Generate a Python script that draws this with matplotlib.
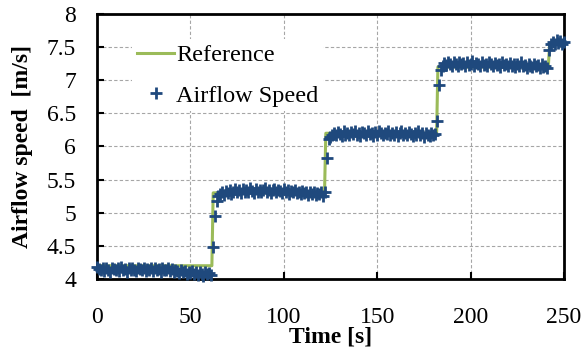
import matplotlib
matplotlib.use('Agg')
import matplotlib.pyplot as plt
import numpy as np

plt.rcParams['font.family'] = ['Liberation Serif', 'DejaVu Serif']

# measured airflow speed, one sample per second (t = 0 .. 250 s)
sample_period = 1.0
speed = [
    # level 1
    4.18, 4.15, 4.13, 4.17, 4.12, 4.16, 4.14, 4.11, 4.17, 4.15,
    4.13, 4.16, 4.12, 4.18, 4.14, 4.15, 4.11, 4.16, 4.13, 4.17,
    4.14, 4.12, 4.16, 4.15, 4.13, 4.17, 4.12, 4.15, 4.14, 4.16,
    4.12, 4.17, 4.13, 4.15, 4.11, 4.16, 4.14, 4.13, 4.17, 4.12,
    4.15, 4.11, 4.14, 4.12, 4.09, 4.13, 4.10, 4.12, 4.08, 4.11,
    4.09, 4.12, 4.07, 4.10, 4.06, 4.11, 4.08, 4.05, 4.10, 4.07,
    4.09, 4.06,
    4.48, 4.95, 5.17, 5.25,
    # level 2
    5.28, 5.31, 5.27, 5.33, 5.30, 5.35, 5.29, 5.32, 5.36, 5.31,
    5.34, 5.30, 5.36, 5.32, 5.35, 5.31, 5.37, 5.33, 5.30, 5.36,
    5.32, 5.35, 5.31, 5.34, 5.37, 5.32, 5.35, 5.30, 5.34, 5.36,
    5.31, 5.35, 5.33, 5.30, 5.36, 5.32, 5.34, 5.29, 5.33, 5.31,
    5.35, 5.30, 5.32, 5.28, 5.33, 5.30, 5.31, 5.27, 5.32, 5.29,
    5.31, 5.27, 5.30, 5.28, 5.32, 5.26, 5.31,
    5.82, 6.12,
    # level 3
    6.15, 6.18, 6.21, 6.17, 6.22, 6.19, 6.16, 6.23, 6.18, 6.21,
    6.17, 6.22, 6.19, 6.24, 6.18, 6.21, 6.16, 6.22, 6.20, 6.17,
    6.23, 6.19, 6.21, 6.16, 6.22, 6.18, 6.24, 6.20, 6.17, 6.21,
    6.19, 6.23, 6.17, 6.21, 6.18, 6.22, 6.16, 6.20, 6.23, 6.18,
    6.21, 6.17, 6.22, 6.19, 6.16, 6.21, 6.18, 6.23, 6.17, 6.20,
    6.15, 6.21, 6.18, 6.16, 6.20, 6.17, 6.19,
    6.38, 6.93, 7.15,
    # level 4
    7.22, 7.26, 7.23, 7.28, 7.24, 7.21, 7.27, 7.25, 7.22, 7.28,
    7.24, 7.26, 7.21, 7.27, 7.23, 7.25, 7.29, 7.22, 7.26, 7.24,
    7.21, 7.27, 7.23, 7.25, 7.22, 7.28, 7.24, 7.21, 7.26, 7.23,
    7.25, 7.20, 7.27, 7.23, 7.25, 7.21, 7.26, 7.22, 7.24, 7.20,
    7.25, 7.22, 7.27, 7.21, 7.23, 7.19, 7.24, 7.22, 7.20, 7.25,
    7.21, 7.23, 7.19, 7.24, 7.20, 7.22, 7.18,
    7.45,
    # level 5
    7.55, 7.58, 7.54, 7.60, 7.56, 7.59, 7.55, 7.58,
]
time = np.arange(len(speed)) * sample_period

# reference set-point (steps)
ref_time = [0, 61.5, 62.2, 121.8, 122.5, 181.8, 182.5, 241.6, 242.3, 250]
ref_speed = [4.2, 4.2, 5.3, 5.3, 6.2, 6.2, 7.2, 7.2, 7.55, 7.55]

x_ticks = [0, 50, 100, 150, 200, 250]
y_ticks = [4, 4.5, 5, 5.5, 6, 6.5, 7, 7.5, 8]
y_ticklabels = ['4', '4.5', '5', '5.5', '6', '6.5', '7', '7.5', '8']

fig = plt.figure(figsize=(5.85, 3.49), dpi=100)
ax = fig.add_axes([0.1658, 0.2006, 0.7983, 0.7593])

ax.plot(ref_time, ref_speed, color='#9BBB59', lw=2.2, label='Reference', zorder=3)
ax.plot(time, speed, ls='none', marker='+', ms=8.5, mew=2.0, color='#1F497D',
        label='Airflow Speed', zorder=4, clip_on=False)

ax.set_xlim(0, 250)
ax.set_ylim(4, 8)
ax.set_xticks(x_ticks)
ax.set_yticks(y_ticks)
ax.set_yticklabels(y_ticklabels)
ax.grid(True, color='#a6a6a6', ls=(0, (3, 2)), lw=0.8)
ax.set_axisbelow(True)

for s in ax.spines.values():
    s.set_linewidth(2)
ax.tick_params(direction='in', length=5, width=1.5, labelsize=17)
ax.tick_params(axis='x', pad=20)
ax.tick_params(axis='y', pad=15)

ax.set_xlabel('Time [s]', fontsize=17, fontweight='bold')
ax.xaxis.set_label_coords(0.5, -0.18)
ax.set_ylabel('Airflow speed  [m/s]', fontsize=17, fontweight='bold')
ax.yaxis.set_label_coords(-0.138, 0.5)

leg = ax.legend(loc='upper left', bbox_to_anchor=(0.05, 0.95), fontsize=17.5,
                frameon=True, facecolor='white', edgecolor='none', framealpha=1,
                fancybox=False, handlelength=1.5, handletextpad=0.1,
                labelspacing=0.75, borderpad=0.2)

fig.savefig('out.png', dpi=100)
